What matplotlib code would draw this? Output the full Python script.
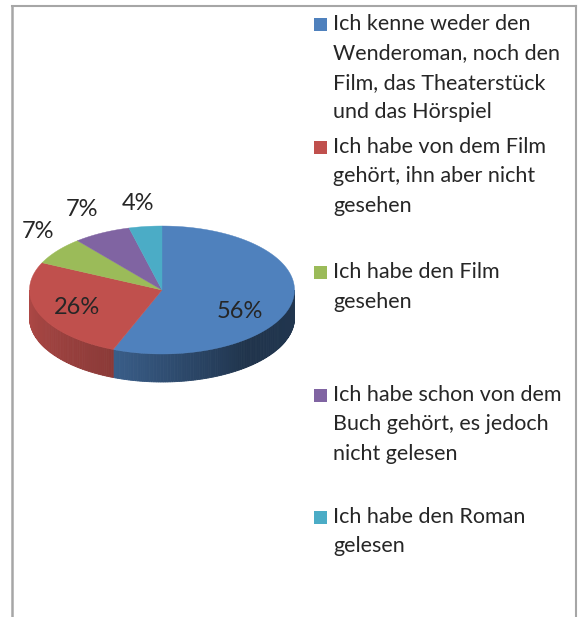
import numpy as np
import matplotlib
matplotlib.use("Agg")
import matplotlib.pyplot as plt
from matplotlib.lines import Line2D

# ---- data ----
categories = [
    "Ich kenne weder den\nWenderoman, noch den\nFilm, das Theaterstück\nund das Hörspiel",
    "Ich habe von dem Film\ngehört, ihn aber nicht\ngesehen",
    "Ich habe den Film\ngesehen",
    "Ich habe schon von dem\nBuch gehört, es jedoch\nnicht gelesen",
    "Ich habe den Roman\ngelesen",
]
values = [56, 26, 7, 7, 4]
colors = ["#4F81BD", "#C0504D", "#9BBB59", "#8064A2", "#4BACC6"]

W, H = 578, 617
fig = plt.figure(figsize=(W / 100, H / 100), dpi=100)
ax = fig.add_axes([0, 0, 1, 1])
ax.set_xlim(0, W)
ax.set_ylim(H, 0)
ax.axis("off")

FONT = "Lato"
TXT = "#262626"

# pie geometry (pixel space)
cx, cy, a, b, depth = 162, 290, 132.5, 64, 28

total = float(sum(values))
angles = []
start = 90.0
for v in values:
    span = 360.0 * v / total
    angles.append((start - span, start))  # clockwise
    start -= span

def pt(t, dz=0.0):
    r = np.deg2rad(t)
    return cx + a * np.cos(r), cy - b * np.sin(r) + dz

def shade(t):
    return np.interp(t, [180, 250, 310, 360], [0.92, 0.72, 0.40, 0.42])

# side walls (visible front half 180..360 deg)
for (t0, t1), col in zip(angles, colors):
    base = np.array(matplotlib.colors.to_rgb(col))
    lo, hi = t0 % 360, (t0 % 360) + (t1 - t0)
    for off in (0, -360, 360):
        s, e = max(lo + off, 180), min(hi + off, 360)
        if e <= s:
            continue
        n = max(2, int((e - s) / 1.0))
        edges = np.linspace(s, e, n + 1)
        for u0, u1 in zip(edges[:-1], edges[1:]):
            ts = np.linspace(u0, u1, 4)
            top = [pt(t) for t in ts]
            bot = [pt(t, depth) for t in ts[::-1]]
            poly = np.array(top + bot)
            c = np.clip(base * shade(0.5 * (u0 + u1)), 0, 1)
            ax.fill(poly[:, 0], poly[:, 1], color=c, lw=0.6, ec=c)

# top face
for (t0, t1), col in zip(angles, colors):
    ts = np.linspace(t0, t1, 120)
    arc = [pt(t) for t in ts]
    poly = np.array([(cx, cy)] + arc)
    ax.fill(poly[:, 0], poly[:, 1], color=col, lw=0.3, ec=col)

# percentage labels
label_pos = [(240, 312), (77, 307), (38, 232), (82, 209), (138, 204)]
for v, (x, y) in zip(values, label_pos):
    ax.text(x, y, f"{v}%", ha="center", va="center", fontsize=17,
            family=FONT, color=TXT)

# legend
entry_y = [24, 147, 272, 395, 517]
line_gap = 29.5
for lab, col, y0 in zip(categories, colors, entry_y):
    ax.add_patch(plt.Rectangle((314, y0 - 6.5), 13, 13, color=col, lw=0))
    for i, line in enumerate(lab.split("\n")):
        ax.text(333, y0 + i * line_gap, line, ha="left", va="center",
                fontsize=15.5, family=FONT, color=TXT)

# frame
gray = "#A6A6A6"
ax.add_line(Line2D([12, 12], [6, H], color=gray, lw=1.8))
ax.add_line(Line2D([12, 576], [6, 6], color=gray, lw=1.5))
ax.add_line(Line2D([576, 576], [6, H], color=gray, lw=1.5))

fig.savefig("out.png", dpi=100)
